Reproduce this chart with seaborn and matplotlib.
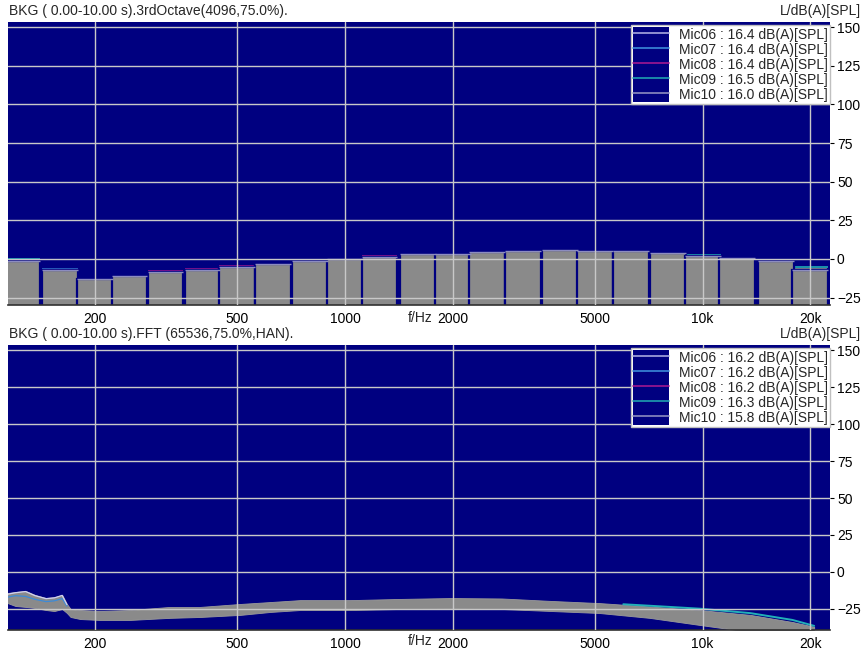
# two-panel background noise spectra (3rd octave + FFT), five mics

import matplotlib.pyplot as plt
import numpy as np
import pandas as pd
import seaborn as sns
from matplotlib.legend_handler import HandlerTuple
from matplotlib.lines import Line2D
from matplotlib.patches import Rectangle
from matplotlib.ticker import NullLocator

sns.set_style('white')
plt.rcParams['font.family'] = ['Liberation Sans', 'DejaVu Sans']

# colours
navy = '#000080'
grid_col = '#c8c8c8'
bar_gray = '#8a8a8a'

mics = ['Mic06', 'Mic07', 'Mic08', 'Mic09', 'Mic10']
mic_colors = ['#a8a8e0', '#3c8ad8', '#a01890', '#1f9fb0', '#8c8cc0']
octave_totals = [16.4, 16.4, 16.4, 16.5, 16.0]
fft_totals = [16.2, 16.2, 16.2, 16.3, 15.8]

# third octave band centres (Hz)
bands = [125, 160, 200, 250, 315, 400, 500, 630, 800, 1000, 1250, 1600,
         2000, 2500, 3150, 4000, 5000, 6300, 8000, 10000, 12500, 16000, 20000]

# band levels dB(A) per mic
mic06 = [-1.4, -7.2, -12.8, -11.3, -8.5, -7.2, -5.0, -3.1, -1.4, -0.3, 1.4, 2.9,
         2.9, 4.4, 5.0, 5.7, 5.0, 5.0, 4.0, 1.8, 0.8, -1.4, -7.2]
mic07 = [-1.5, -6.5, -12.9, -11.3, -8.6, -7.3, -5.1, -3.1, -1.4, -0.3, 1.4, 2.9,
         2.9, 4.4, 5.0, 5.7, 5.0, 5.0, 4.0, 1.8, 0.8, -1.4, -7.3]
mic08 = [-1.5, -7.3, -12.9, -11.3, -7.9, -6.8, -4.7, -3.0, -1.4, -0.3, 1.7, 2.9,
         2.9, 4.4, 5.0, 5.7, 5.0, 5.0, 4.0, 1.8, 0.8, -1.5, -7.4]
mic09 = [-0.3, -7.2, -12.8, -11.3, -8.6, -7.3, -5.1, -3.1, -1.4, -0.3, 1.3, 2.9,
         2.9, 4.4, 5.0, 5.7, 5.0, 5.0, 4.0, 2.3, 0.9, -0.8, -5.3]
mic10 = [-1.4, -7.2, -12.8, -11.3, -8.5, -7.2, -5.0, -3.1, -1.4, -0.3, 1.4, 2.9,
         2.9, 4.4, 5.0, 5.7, 5.0, 5.0, 4.0, 1.8, 0.8, -1.4, -7.2]
octave_levels = [mic06, mic07, mic08, mic09, mic10]

# FFT spectrum envelope (all mics overlap into one band)
fft_freq = [114, 120, 128, 136, 146, 154, 162, 167, 171, 182, 206, 251, 324, 394,
            510, 619, 750, 1037, 1432, 1983, 2744, 3800, 5135, 7106, 9823, 13600,
            17830, 20500]
fft_upper = [-14.2, -13.5, -12.8, -15.5, -17.6, -17.0, -15.5, -21.6, -25.0, -25.7,
             -26.4, -25.7, -23.6, -23.6, -21.6, -20.3, -19.0, -19.0, -18.2, -17.6,
             -17.9, -19.6, -21.0, -23.3, -25.7, -29.0, -33.8, -37.0]
fft_lower = [-21.0, -23.0, -23.6, -24.3, -25.7, -26.4, -25.0, -27.7, -30.4, -31.8,
             -32.4, -32.4, -31.0, -30.4, -29.0, -27.0, -25.7, -25.7, -25.0, -24.7,
             -25.0, -26.4, -27.7, -31.0, -35.8, -40.5, -41.0, -41.0]
# mic traces that stick out of the band
low_freq = [114, 120, 128, 136, 146, 154, 162, 167]
mic06_low = [-15.0, -14.0, -13.2, -16.0, -18.0, -17.5, -15.8, -22.0]
mic07_low = [-17.0, -16.0, -16.5, -18.5, -20.0, -19.5, -18.0, -23.0]
high_freq = [6000, 7106, 9823, 13600, 17830, 20500]
mic09_high = [-21.8, -22.8, -24.8, -27.8, -32.4, -36.4]

xticks = [200, 500, 1000, 2000, 5000, 10000, 20000]
xticklabels = ['200', '500', '1000', '2000', '5000', '10k', '20k']
yticks = list(range(-25, 151, 25))

W, H = 863, 650
fig = plt.figure(figsize=(W / 100, H / 100), dpi=100)
ax1 = fig.add_axes([8 / W, 1 - 305 / H, 822 / W, 283 / H])
ax2 = fig.add_axes([8 / W, 1 - 630 / H, 822 / W, 285 / H])


def style_axes(ax, ylim):
    ax.set_facecolor(navy)
    ax.set_xscale('log')
    ax.set_xlim(114.3, 22700)
    ax.set_ylim(*ylim)
    ax.set_xticks(xticks)
    ax.set_xticklabels(xticklabels)
    ax.xaxis.set_minor_locator(NullLocator())
    ax.set_yticks(yticks)
    ax.yaxis.tick_right()
    ax.tick_params(axis='x', length=0, pad=5, labelsize=10, colors='black')
    ax.tick_params(axis='y', length=3, width=0.8, pad=2, labelsize=10,
                   colors='black', direction='out')
    ax.set_axisbelow(False)
    ax.grid(True, color=grid_col, linewidth=1)
    for s in ['top', 'left', 'right']:
        ax.spines[s].set_visible(False)
    ax.spines['bottom'].set_color('#303030')
    ax.spines['bottom'].set_linewidth(1.2)


def add_legend(ax, totals, yoff):
    handles = [(Rectangle((0, 0), 1, 1, facecolor=navy, edgecolor='none'),
                Line2D([], [], color=c, lw=1.2)) for c in mic_colors]
    labels = [f'{m} : {v:.1f} dB(A)[SPL]' for m, v in zip(mics, totals)]
    leg = ax.legend(handles, labels, handler_map={tuple: HandlerTuple(ndivide=1, pad=0)},
                    loc='upper right', bbox_to_anchor=(1.0, yoff), borderaxespad=0,
                    fontsize=10, handlelength=2.6, handleheight=1.24, labelspacing=0,
                    handletextpad=0.7, borderpad=0.15, fancybox=False, framealpha=1,
                    facecolor='white', edgecolor='#c0c0c0')
    leg.get_frame().set_linewidth(1)


# --- top: third octave bars ---
style_axes(ax1, (-29.8, 153.4))
lo = [b * 10 ** -0.05 for b in bands]
hi = [b * 10 ** 0.05 for b in bands]
widths = [h - l for l, h in zip(lo, hi)]
floor = -45
for i, (lev, col) in enumerate(zip(octave_levels, mic_colors)):
    ax1.bar(lo, [v - floor for v in lev], width=widths, bottom=floor, align='edge',
            color=bar_gray, edgecolor=navy, linewidth=1.6, zorder=1 + i * 0.1)
    ax1.hlines(lev, lo, hi, colors=col, linewidth=1.0 if i == 4 else 1.3,
               zorder=1.05 + i * 0.1)
add_legend(ax1, octave_totals, 1 - 3 / 283)

# --- bottom: FFT ---
style_axes(ax2, (-39.2, 153.4))
ax2.fill_between(fft_freq, fft_lower, fft_upper, color=bar_gray, linewidth=0.6,
                 edgecolor='#9a9a9a', zorder=1)
low = pd.DataFrame({'f': low_freq, 'Mic06': mic06_low, 'Mic07': mic07_low})
high = pd.DataFrame({'f': high_freq, 'Mic09': mic09_high})
sns.lineplot(data=low, x='f', y='Mic07', ax=ax2, color=mic_colors[1], lw=0.9, zorder=1.5)
sns.lineplot(data=low, x='f', y='Mic06', ax=ax2, color='#d0d0f0', lw=0.9, zorder=1.6)
sns.lineplot(data=high, x='f', y='Mic09', ax=ax2, color='#22b0b8', lw=1.4, zorder=1.5)
ax2.set_xlabel('')
ax2.set_ylabel('')
add_legend(ax2, fft_totals, 1 - 3 / 285)

# header texts
fig.text(9 / W, 1 - 11 / H, 'BKG ( 0.00-10.00 s).3rdOctave(4096,75.0%).',
         fontsize=10, va='center', ha='left')
fig.text(861 / W, 1 - 11 / H, 'L/dB(A)[SPL]', fontsize=10, va='center', ha='right')
fig.text(9 / W, 1 - 334 / H, 'BKG ( 0.00-10.00 s).FFT (65536,75.0%,HAN).',
         fontsize=10, va='center', ha='left')
fig.text(861 / W, 1 - 334 / H, 'L/dB(A)[SPL]', fontsize=10, va='center', ha='right')
fig.text(420 / W, 1 - 318 / H, 'f/Hz', fontsize=10, va='center', ha='center')
fig.text(420 / W, 1 - 641 / H, 'f/Hz', fontsize=10, va='center', ha='center')

fig.savefig('out.png', dpi=100, facecolor='white')
